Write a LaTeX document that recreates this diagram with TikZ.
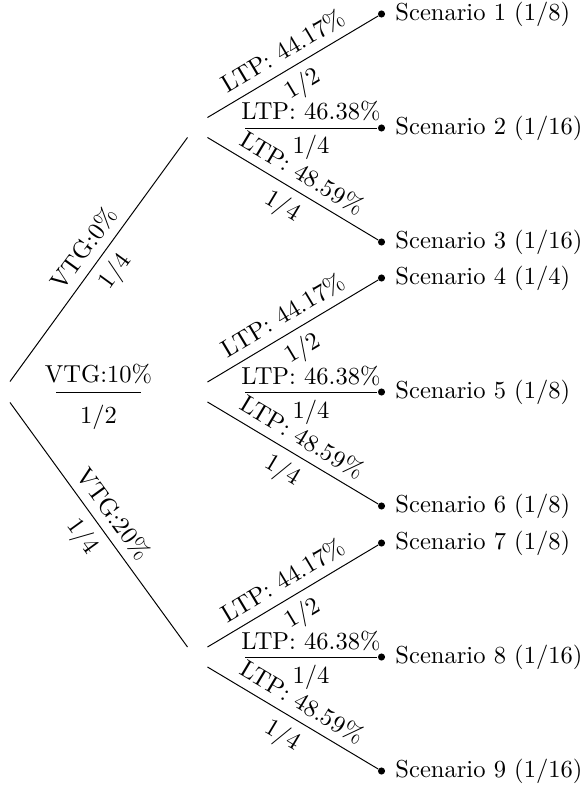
\documentclass[tikz,border=0pt]{standalone}
\begin{document}
\begin{tikzpicture}[x=0.4074pt,y=-0.4074pt,
  rootnode/.style={inner sep=0pt,minimum width=0pt,minimum height=8.15pt},
  branch/.style={inner sep=0pt,minimum size=7.74pt},
  leafdot/.style={circle,fill=black,inner sep=0pt,minimum size=2.9pt},
  leaftext/.style={anchor=west,inner sep=0pt},
  lblA/.style={midway,above,sloped},
  lblB/.style={midway,below,sloped},
  frac/.style={anchor=base,inner sep=0pt}]
\useasboundingbox (0,0) rectangle (583,787);
% root and first level
\node[rootnode] (r) at (10,392) {};
\node[branch] (a1) at (197.5,127.5) {};
\node[branch] (a2) at (197.5,392) {};
\node[branch] (a3) at (197.5,657) {};
\draw (r.north) -- node[lblA]{VTG:0\%} node[lblB]{1/4} (a1.south west);
\draw (r.south) -- node[lblA]{VTG:20\%} node[lblB]{1/4} (a3.north west);
\coordinate (v1) at (56,392.5);
\coordinate (v2) at (141,392.5);
\draw (v1) -- (v2);
\node[frac] (vn) at (98.5,382.3) {VTG:10\%};
\node[frac] (vd) at (98.5,423.3) {1/2};
% leaves
\foreach \i/\y/\t in {1/14/{Scenario 1 (1/8)},2/128/{Scenario 2 (1/16)},3/242/{Scenario 3 (1/16)},
                      4/278/{Scenario 4 (1/4)},5/392/{Scenario 5 (1/8)},6/506/{Scenario 6 (1/8)},
                      7/543/{Scenario 7 (1/8)},8/657/{Scenario 8 (1/16)},9/771/{Scenario 9 (1/16)}}{
  \node[leafdot] (s\i) at (381.5,\y) {};
  \node[leaftext] (t\i) at (395,\y) {\t};
}
% second level
\foreach \g/\c/\p/\q/\r in {1/128/1/2/3, 2/392/4/5/6, 3/657/7/8/9}{
  \draw (a\g.north east) -- node[lblA]{LTP: 44.17\%} node[lblB]{1/2} (s\p);
  \draw (a\g.south east) -- node[lblA]{LTP: 48.59\%} node[lblB]{1/4} (s\r);
  \coordinate (m\g) at (245,\c);
  \draw (m\g) -- (s\q);
  \node[frac] (mn\g) at (311,\c-8) {LTP: 46.38\%};
  \node[frac] (md\g) at (311,\c+26) {1/4};
}
\end{tikzpicture}
\end{document}
